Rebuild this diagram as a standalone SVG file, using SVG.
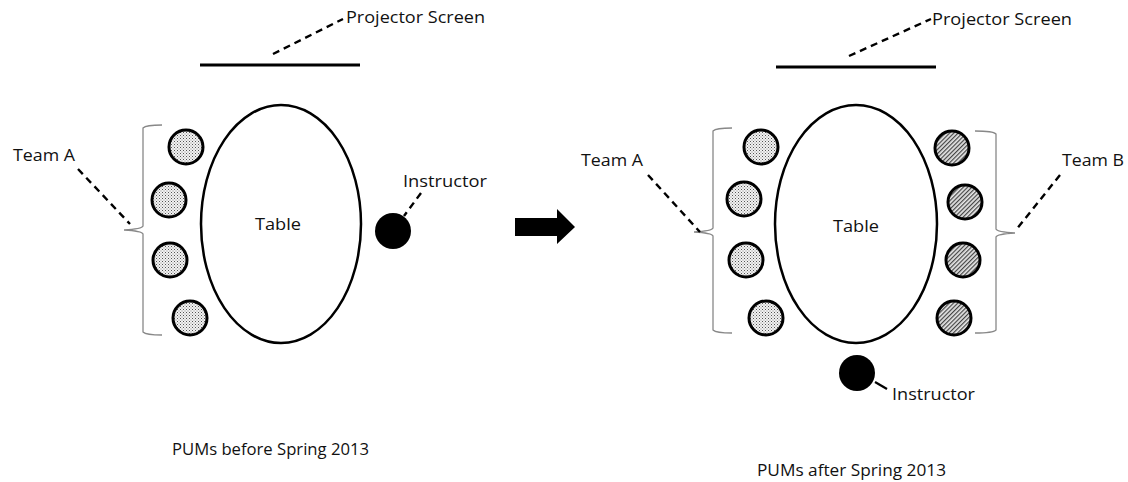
<svg xmlns="http://www.w3.org/2000/svg" width="1128" height="482" viewBox="0 0 1128 482">
  <defs>
    <pattern id="dots" width="3" height="3" patternUnits="userSpaceOnUse">
      <rect width="3" height="3" fill="#f2f2f2"/>
      <rect x="0" y="0" width="1" height="1" fill="#555"/>
      <rect x="1.5" y="1.5" width="1" height="1" fill="#888"/>
    </pattern>
    <pattern id="hatch" width="3" height="3" patternUnits="userSpaceOnUse" patternTransform="rotate(45)">
      <rect width="3" height="3" fill="#e6e6e6"/>
      <rect x="0" y="0" width="1.2" height="3" fill="#444"/>
    </pattern>
  </defs>
  <style>
    text { font-family: "Open Sans", "DejaVu Sans", sans-serif; font-size: 16px; fill: #111; }
    .screen { stroke: #000; stroke-width: 3; }
    .table { fill: #fff; stroke: #000; stroke-width: 2.5; }
    .seatA { fill: url(#dots); stroke: #000; stroke-width: 3; }
    .seatB { fill: url(#hatch); stroke: #000; stroke-width: 3; }
    .instr { fill: #000; }
    .brace { fill: none; stroke: #888; stroke-width: 1.3; }
    .lead { fill: none; stroke: #000; stroke-width: 2.4; stroke-dasharray: 7 5; }
  </style>
  <rect width="1128" height="482" fill="#fff"/>

  <!-- Layout before Spring 2013 -->
  <g id="screen-before">
    <line class="screen" x1="200" y1="65" x2="360" y2="65"/>
    <text x="346" y="23" textLength="139" lengthAdjust="spacingAndGlyphs">Projector Screen</text>
  </g>
  <g id="table-before">
    <ellipse class="table" cx="281" cy="224" rx="80" ry="119"/>
    <text x="255" y="230" textLength="46" lengthAdjust="spacingAndGlyphs">Table</text>
  </g>
  <g id="team-a-before">
    <circle class="seatA" cx="186" cy="147" r="17"/>
    <circle class="seatA" cx="169" cy="200" r="17"/>
    <circle class="seatA" cx="170" cy="260" r="17"/>
    <circle class="seatA" cx="190" cy="318" r="17"/>
    <path class="brace" d="M162,125 Q146,125 143,128 L143,226 Q142,229 124,230 Q142,231 143,234 L143,332 Q146,335 162,335"/>
    <text x="13" y="161" textLength="62" lengthAdjust="spacingAndGlyphs">Team A</text>
  </g>
  <g id="instructor-before">
    <circle class="instr" cx="393" cy="231" r="18"/>
    <text x="403" y="187" textLength="84" lengthAdjust="spacingAndGlyphs">Instructor</text>
  </g>

  <!-- Transition arrow -->
  <g id="arrow">
    <path d="M515,218 L557,218 L557,209 L575,227 L557,244 L557,236 L515,236 Z" fill="#000"/>
  </g>

  <!-- Layout after Spring 2013 -->
  <g id="screen-after">
    <line class="screen" x1="776" y1="67" x2="936" y2="67"/>
    <text x="932" y="25" textLength="140" lengthAdjust="spacingAndGlyphs">Projector Screen</text>
  </g>
  <g id="table-after">
    <ellipse class="table" cx="856" cy="224" rx="81" ry="119" stroke-width="2.2"/>
    <text x="833" y="232" textLength="46" lengthAdjust="spacingAndGlyphs">Table</text>
  </g>
  <g id="team-a-after">
    <circle class="seatA" cx="761" cy="147" r="17"/>
    <circle class="seatA" cx="744" cy="199" r="17"/>
    <circle class="seatA" cx="746" cy="260" r="17"/>
    <circle class="seatA" cx="766" cy="318" r="17"/>
    <path class="brace" d="M732,128 Q716,128 713,131 L713,228 Q712,231 694,232 Q712,233 713,236 L713,330 Q716,333 732,333"/>
    <text x="581" y="166" textLength="62" lengthAdjust="spacingAndGlyphs">Team A</text>
  </g>
  <g id="team-b-after">
    <circle class="seatB" cx="952" cy="148" r="17"/>
    <circle class="seatB" cx="965" cy="202" r="17"/>
    <circle class="seatB" cx="963" cy="260" r="17"/>
    <circle class="seatB" cx="954" cy="318" r="17"/>
    <path class="brace" d="M975,131 Q993,131 996,134 L996,229 Q997,232 1015,233 Q997,234 996,237 L996,330 Q993,333 975,333"/>
    <text x="1062" y="166" textLength="62" lengthAdjust="spacingAndGlyphs">Team B</text>
  </g>
  <g id="instructor-after">
    <circle class="instr" cx="857" cy="373" r="18"/>
    <text x="892" y="400" textLength="83" lengthAdjust="spacingAndGlyphs">Instructor</text>
  </g>

  <!-- Captions -->
  <g id="captions">
    <text x="172" y="455" textLength="197" lengthAdjust="spacingAndGlyphs">PUMs before Spring 2013</text>
    <text x="757" y="476" textLength="189" lengthAdjust="spacingAndGlyphs">PUMs after Spring 2013</text>
  </g>

  <!-- Label leaders -->
  <g id="connectors">
    <line class="lead" x1="273" y1="54" x2="343" y2="19"/>
    <line class="lead" x1="78" y1="169" x2="130" y2="224"/>
    <line class="lead" x1="421" y1="193" x2="404" y2="216"/>
    <line class="lead" x1="849" y1="56" x2="931" y2="19"/>
    <line class="lead" x1="648" y1="175" x2="700" y2="232"/>
    <line class="lead" x1="1060" y1="175" x2="1016" y2="230"/>
    <line x1="875" y1="382" x2="887" y2="389" stroke="#000" stroke-width="2.2"/>
  </g>
</svg>
